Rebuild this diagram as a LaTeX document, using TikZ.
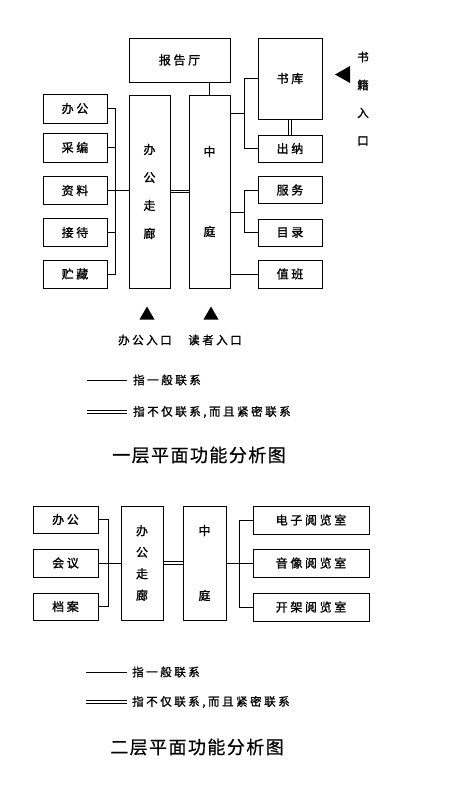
\documentclass[tikz,border=0pt]{standalone}
\usepackage{fontspec}
\setmainfont{Noto Sans CJK SC}[FakeBold=1.2]
\newfontfamily\lsfont[LetterSpace=22,FakeBold=1.3]{Noto Sans CJK SC}
\newfontfamily\lstitle[LetterSpace=8,FakeBold=0.6]{Noto Sans CJK SC}
\usetikzlibrary{calc}
\begin{document}
\begin{tikzpicture}[x=1pt,y=-1pt,
  box/.style={draw,line width=0.9pt,inner sep=0pt,font=\lsfont\fontsize{12}{14}\selectfont},
  wh/.style 2 args={minimum width=#1,minimum height=#2},
  vtxt/.style={align=center,font=\fontsize{12}{#1}\selectfont},
  conn/.style={line width=0.8pt},
  lbl/.style={inner sep=0pt,font=\lsfont\fontsize{11.5}{14}\selectfont},
  ttl/.style={inner sep=0pt,font=\lstitle\fontsize{18}{20}\selectfont},
  tri/.style={fill=black}]
\path[fill=white] (0,0) rectangle (464,798);

% ---------- first floor ----------
\node[box,wh={101pt}{44pt}] (bgt) at (179.5,60) {报告厅};
\node[box,wh={64pt}{29pt}] (a1) at (75,108.5) {办公};
\node[box,wh={64pt}{29pt}] (a2) at (75,147.5) {采编};
\node[box,wh={64pt}{28pt}] (a3) at (75,190.5) {资料};
\node[box,wh={64pt}{28pt}] (a4) at (75,232.5) {接待};
\node[box,wh={64pt}{28pt}] (a5) at (75,274) {贮藏};
\node[box,wh={41pt}{193pt},vtxt=28pt] (zl1) at (149.5,191.5) {办\\公\\走\\廊};
\node[box,wh={41pt}{193pt},vtxt=28pt] (zt1) at (209.5,191.5) {中\\[52pt]庭};
\node[box,wh={64pt}{81pt}] (sk) at (290,78.5) {书库};
\node[box,wh={64pt}{27pt}] (cn) at (290,148.5) {出纳};
\node[box,wh={64pt}{27pt}] (fw) at (290,190) {服务};
\node[box,wh={64pt}{27pt}] (ml) at (290,232.5) {目录};
\node[box,wh={64pt}{28pt}] (zb) at (290,274) {值班};

\coordinate (busL) at (115,0);
\coordinate (busR) at (244,0);
\coordinate (h1) at (0,113);
\coordinate (h2) at (0,212);

\draw[conn] (a1.east) -- (a1.east -| busL) -- (a5.east -| busL) -- (a5.east);
\draw[conn] (a2.east) -- (a2.east -| busL);
\draw[conn] (a4.east) -- (a4.east -| busL);
\draw[conn] (a3.east) -- (a3.east -| zl1.west);
\draw[conn] ([yshift=1.3pt]zl1.east) -- ([yshift=1.3pt]zt1.west);
\draw[conn] ([yshift=-1.3pt]zl1.east) -- ([yshift=-1.3pt]zt1.west);
\draw[conn] (zt1.north) -- (zt1.north |- bgt.south);
\draw[conn] (sk.west) -- (sk.west -| busR) -- (cn.west -| busR) -- (cn.west);
\draw[conn] (zt1.east |- h1) -- (busR |- h1);
\draw[conn] ([xshift=-1.3pt]sk.south) -- ([xshift=-1.3pt]cn.north);
\draw[conn] ([xshift=1.3pt]sk.south) -- ([xshift=1.3pt]cn.north);
\draw[conn] (fw.west) -- (fw.west -| busR) -- (ml.west -| busR) -- (ml.west);
\draw[conn] (zt1.east |- h2) -- (busR |- h2);
\draw[conn] (zb.west) -- (zb.west -| zt1.east);

% book entrance
\fill[tri] (335,74.5) -- (350,66) -- (350,83) -- cycle;
\node[lbl] (sj1) at (363,57) {书};
\node[lbl] (sj2) at (363,85) {籍};
\node[lbl] (sj3) at (363,113) {入};
\node[lbl] (sj4) at (363,141) {口};

% entrances
\fill[tri] (147,306.5) -- (154.5,319.5) -- (139.5,319.5) -- cycle;
\fill[tri] (211,306.5) -- (218.5,319.5) -- (203.5,319.5) -- cycle;
\node[lbl] (ent1) at (145,340) {办公入口};
\node[lbl] (ent2) at (215,340) {读者入口};

% legend 1
\coordinate (la1) at (87,380); \coordinate (la2) at (127,380);
\coordinate (lb1) at (87,410.7); \coordinate (lb2) at (127,410.7);
\coordinate (lb3) at (87,413.3); \coordinate (lb4) at (127,413.3);
\draw[conn] (la1) -- (la2);
\draw[conn] (lb1) -- (lb2);
\draw[conn] (lb3) -- (lb4);
\node[lbl,anchor=west] (lt1) at (133,380) {指一般联系};
\node[lbl,anchor=west] (lt2) at (133,412) {指不仅联系,而且紧密联系};
\node[ttl] (title1) at (199,455) {一层平面功能分析图};

% ---------- second floor ----------
\node[box,wh={65pt}{27pt}] (b1) at (65.5,519.5) {办公};
\node[box,wh={65pt}{28pt}] (b2) at (65.5,563) {会议};
\node[box,wh={65pt}{27pt}] (b3) at (65.5,606.5) {档案};
\node[box,wh={42pt}{114pt},vtxt=21.5pt] (zl2) at (142,563) {办\\公\\走\\廊};
\node[box,wh={43pt}{114pt},vtxt=21.5pt] (zt2) at (204.5,563) {中\\[43.5pt]庭};
\node[box,wh={116pt}{28pt}] (r1) at (311,520) {电子阅览室};
\node[box,wh={116pt}{28pt}] (r2) at (311,563) {音像阅览室};
\node[box,wh={116pt}{28pt}] (r3) at (311,607) {开架阅览室};

\coordinate (busL2) at (108,0);
\coordinate (busR2) at (239,0);
\draw[conn] (b1.east) -- (b1.east -| busL2) -- (b3.east -| busL2) -- (b3.east);
\draw[conn] (b2.east) -- (zl2.west |- b2.east);
\draw[conn] ([yshift=1.3pt]zl2.east) -- ([yshift=1.3pt]zt2.west);
\draw[conn] ([yshift=-1.3pt]zl2.east) -- ([yshift=-1.3pt]zt2.west);
\draw[conn] (r1.west) -- (r1.west -| busR2) -- (r3.west -| busR2) -- (r3.west);
\draw[conn] (zt2.east) -- (r2.west);

% legend 2
\coordinate (lc1) at (86,672); \coordinate (lc2) at (127,672);
\coordinate (ld1) at (86,700.7); \coordinate (ld2) at (127,700.7);
\coordinate (ld3) at (86,703.3); \coordinate (ld4) at (127,703.3);
\draw[conn] (lc1) -- (lc2);
\draw[conn] (ld1) -- (ld2);
\draw[conn] (ld3) -- (ld4);
\node[lbl,anchor=west] (lt3) at (132,672) {指一般联系};
\node[lbl,anchor=west] (lt4) at (132,702) {指不仅联系,而且紧密联系};
\node[ttl] (title2) at (197,747) {二层平面功能分析图};
\end{tikzpicture}
\end{document}
